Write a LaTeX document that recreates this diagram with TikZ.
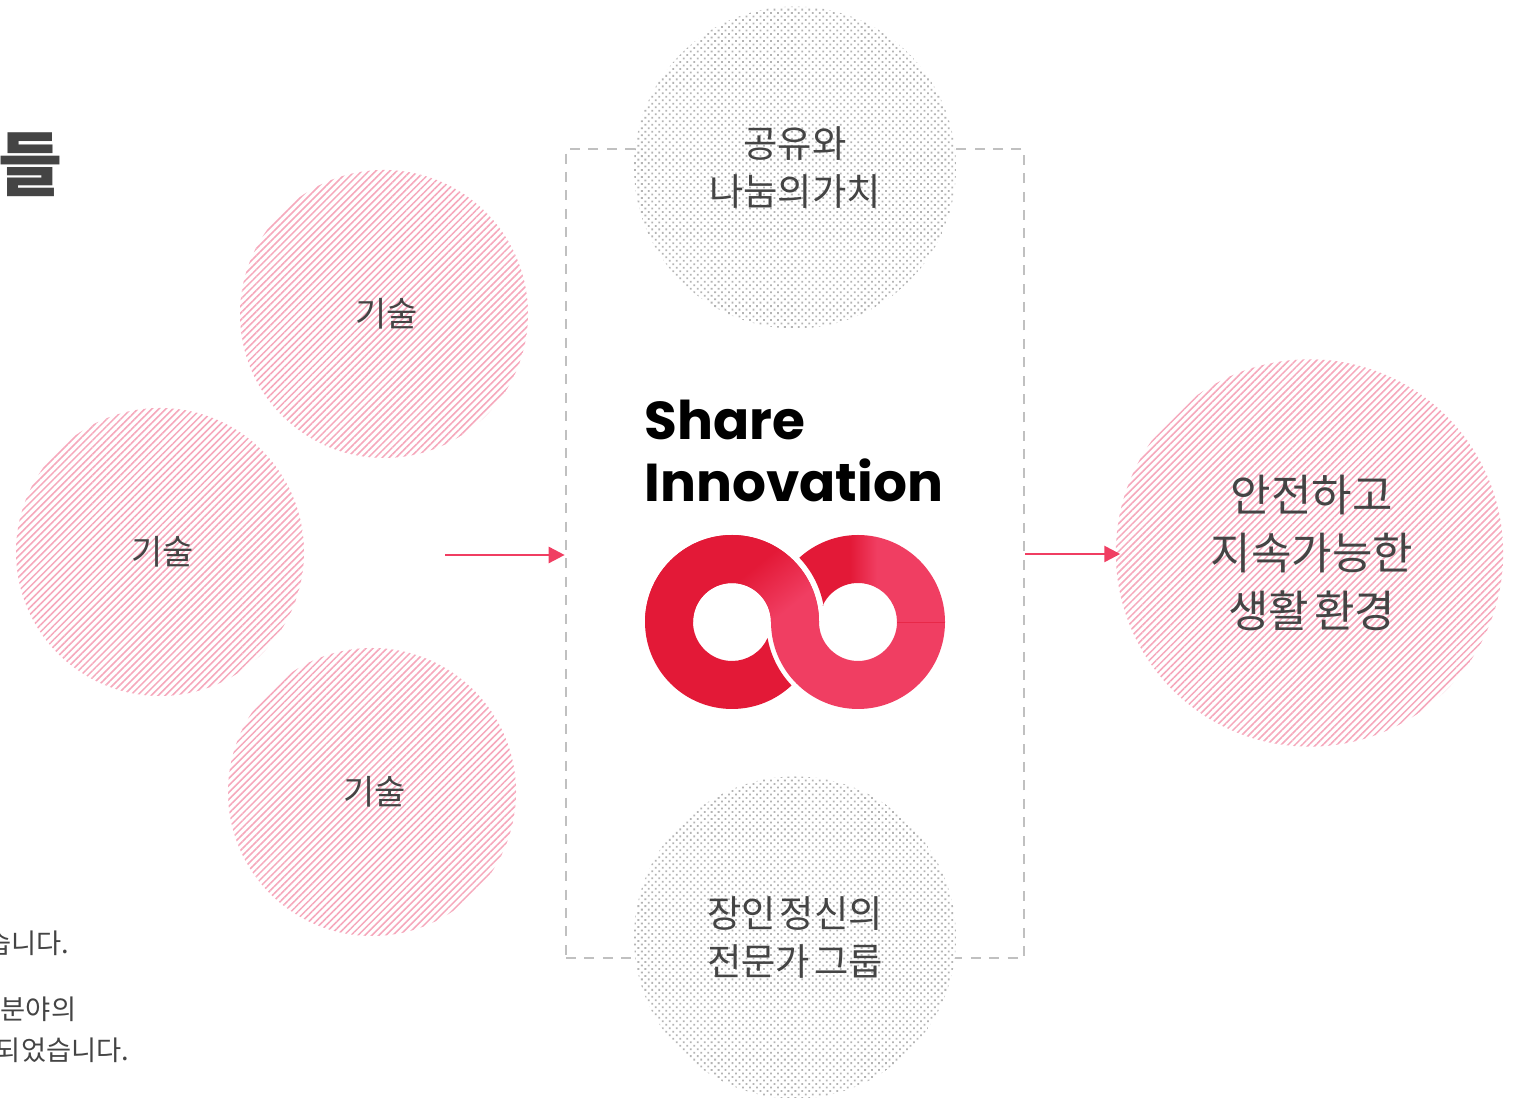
\documentclass[tikz,border=0pt]{standalone}
\usepackage{fontspec}
\usepackage{xcolor}
\usetikzlibrary{arrows.meta,patterns.meta,calc}
\setmainfont[WordSpace=0.5]{Noto Sans CJK KR}
\newfontfamily\latinhead{Poppins}
\definecolor{logodark}{RGB}{227,25,55}
\definecolor{logolight}{RGB}{240,62,98}
\definecolor{stripepink}{RGB}{246,168,188}
\definecolor{dotgrey}{RGB}{180,180,180}
\definecolor{framegrey}{RGB}{192,192,192}
\definecolor{inktext}{RGB}{68,68,68}
\pgfdeclarehorizontalshading{crossramp}{100bp}{color(0bp)=(logodark); color(43bp)=(logodark); color(52bp)=(logolight); color(100bp)=(logolight)}
\pgfdeclarehorizontalshading{topramp}{100bp}{color(0bp)=(logodark); color(46.75bp)=(logodark); color(53.5bp)=(logolight); color(100bp)=(logolight)}
\tikzset{
    techcircle/.style={circle, inner sep=0pt, minimum size=216pt, preaction={fill=white}, pattern={Lines[angle=45,distance=3.7pt,line width=1.15pt]}, pattern color=stripepink, text=inktext, font=\fontsize{25.5}{30}\selectfont, execute at begin node=\hspace*{3.5pt}},
    goalcircle/.style={techcircle, minimum size=290.5pt, align=center, font=\fontsize{33}{43.5}\selectfont, execute at begin node={}},
    valuecircle/.style={circle, inner sep=0pt, minimum size=241.5pt, preaction={fill=white}, pattern={Dots[angle=45,distance=3.7pt,radius=0.95pt]}, pattern color=dotgrey, text=inktext, align=center, font=\fontsize{28}{36}\selectfont},
    framebox/.style={draw=framegrey, line width=2pt, dash pattern=on 7.5pt off 6.3pt, inner sep=0pt, minimum width=343.5pt, minimum height=606.75pt},
    flowarrow/.style={draw=logolight, line width=2pt, -{Triangle[length=12pt,width=12pt]}},
    cuttext/.style={anchor=east, text=inktext, font=\fontsize{20.5}{24}\selectfont}
}
\begin{document}
\begin{tikzpicture}[x=0.75pt,y=0.75pt]
    \useasboundingbox (0,0) rectangle (1519,1098);
    \clip (0,0) rectangle (1519,1098);
    % left side text, cut by the page
    \node[anchor=east, text=inktext, font=\fontsize{52}{58}\bfseries\selectfont] (headtail) at (67,933) {들};
    \node[cuttext] (lineone) at (74,155) {습니다.};
    \node[cuttext] (linetwo) at (81,89) {분야의};
    \node[cuttext] (linethree) at (134,48) {되었습니다.};
    % dashed frame behind the grey circles
    \node[framebox] (frame) at (795,544.5) {};
    % circles
    \node[techcircle] (techa) at (384,784) {기술};
    \node[techcircle] (techb) at (160,546) {기술};
    \node[techcircle] (techc) at (372,306) {기술};
    \node[goalcircle] (goal) at (1309.5,545) {안전하고\\지속가능한\\생활 환경};
    \node[valuecircle] (share) at (795,930.5) {공유와\\나눔의가치};
    \node[valuecircle] (craft) at (795,160.5) {장인 정신의\\전문가 그룹};
    % title
    \node[anchor=west, font=\latinhead\fontsize{40}{47}\bfseries\selectfont, align=left, text=black] (title) at (640,647) {Share\\Innovation};
    % logo
    \coordinate (leftc) at (732,476);
    \coordinate (rightc) at (858,476);
    \fill[logodark] ($(leftc)+(-47.8:87)$) arc[start angle=-47.8, end angle=-360, radius=87] -- ($(leftc)+(39,0)$) arc[start angle=0, end angle=335.8, radius=39] arc[start angle=190, end angle=223.6, radius=91.8] -- cycle;
    \begin{scope}
        \clip (640,476) rectangle (830,570);
        \clip ($(leftc)+(-47.8:87)$) arc[start angle=-47.8, end angle=-360, radius=87] -- ($(leftc)+(39,0)$) arc[start angle=0, end angle=335.8, radius=39] arc[start angle=190, end angle=223.6, radius=91.8] -- cycle;
        \shade[shading=crossramp, shading angle=-51] (630,348) rectangle (930,648);
    \end{scope}
    \fill[logolight] ($(rightc)+(-87,0)$) arc[start angle=180, end angle=360, radius=87] -- ($(rightc)+(39,0)$) arc[start angle=360, end angle=180, radius=39] -- cycle;
    \begin{scope}
        \clip ($(rightc)+(87,0)$) arc[start angle=0, end angle=132.4, radius=87] arc[start angle=43.6, end angle=10.3, radius=93] -- ($(rightc)+(155.2:39)$) arc[start angle=155.2, end angle=0, radius=39] -- cycle;
        \shade[shading=topramp] (763,380) rectangle (963,572);
    \end{scope}
    \draw[logodark!60!logolight, line width=0.6pt] ($(rightc)+(39,0)$) -- ($(rightc)+(87,0)$);
    % arrows
    \coordinate (flowstart) at (445,543);
    \draw[flowarrow] (flowstart) -- (frame.west|-flowstart);
    \draw[flowarrow, shorten >=-3.5pt] ($(frame.east|-goal)+(0,-1)$) -- ($(goal.west)+(0,-1)$);
\end{tikzpicture}
\end{document}
